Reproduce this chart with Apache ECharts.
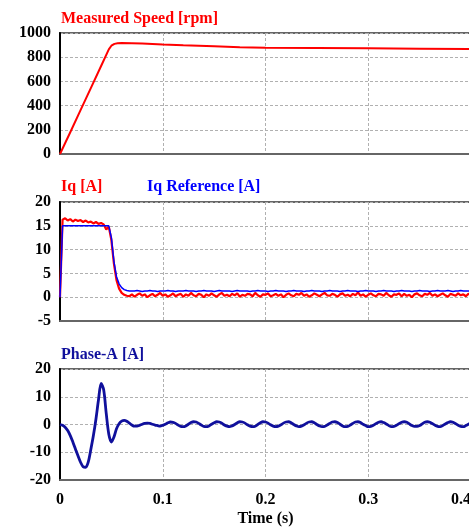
<!DOCTYPE html>
<html>
<head>
<meta charset="utf-8">
<script src="https://cdn.jsdelivr.net/npm/echarts@6/dist/echarts.min.js"></script>
<style>
  html, body { margin: 0; padding: 0; background: #ffffff; }
  #chart { width: 469px; height: 529px; }
</style>
</head>
<body>
<div id="chart"></div>
<script>
// ---- Panel titles and axis ticks ----
const TITLE_SPEED = 'Measured Speed [rpm]';
const TITLE_IQ = 'Iq [A]';
const TITLE_IQ_REF = 'Iq Reference [A]';
const TITLE_PHASE = 'Phase-A [A]';
const X_NAME = 'Time (s)';
const X_TICKS = [0, 0.1, 0.2, 0.3, 0.4];
const SPEED_TICKS = [0, 200, 400, 600, 800, 1000];
const IQ_TICKS = [-5, 0, 5, 10, 15, 20];
const PHASE_TICKS = [-20, -10, 0, 10, 20];

// ---- Measured speed [rpm] vs time [s] ----
const SPEED_T = [0, 0.01, 0.02, 0.03, 0.04, 0.0475, 0.05, 0.053, 0.056, 0.06, 0.07, 0.08, 0.1, 0.12, 0.15, 0.175, 0.2, 0.25, 0.3, 0.35, 0.4];
const SPEED_V = [0, 180, 362, 545, 727, 865, 895, 910, 915, 917, 916, 913, 905, 898, 890, 882, 878, 876, 873, 870, 868];

// ---- Iq traces, sampled every 2.5 ms from t = 0 ----
const IQ_STEP = 0.0025;
const IQ_MEAS = [
  0,
  16.3, 16.6, 16.1, 16.4, 15.9, 16.3, 16.0, 16.2, 15.8, 16.1,
  15.7, 15.9, 15.5, 15.8, 15.4, 15.6, 15.3, 14.2, 14.8,
  12.0, 7.0, 3.6, 1.8, 0.9, 0.5, 0.3,
  0.2, 0.6, 0.1, 0.5, 0.8, 0.3, 0.6, 0.0, 0.4, 0.7,
  0.2, 0.5, 0.9, 0.3, 0.6, 0.1, 0.4, 0.8, 0.2, 0.5,
  0.7, 0.1, 0.6, 0.3, 0.9, 0.4, 0.2, 0.7, 0.5, 0.0,
  0.6, 0.3, 0.8, 0.4, 0.1, 0.6, 0.9, 0.3, 0.5, 0.2,
  0.7, 0.4, 0.8, 0.1, 0.5, 0.3, 0.7, 0.6, 0.2, 0.9,
  0.4, 0.1, 0.6, 0.5, 0.8, 0.2, 0.4, 0.7, 0.3, 0.6,
  0.0, 0.5, 0.8, 0.4, 0.2, 0.7, 0.5, 0.9, 0.3, 0.6,
  0.1, 0.4, 0.8, 0.5, 0.2, 0.6, 0.9, 0.4, 0.3, 0.7,
  0.5, 0.1, 0.6, 0.8, 0.3, 0.5, 0.2, 0.7, 0.4, 1.0,
  0.3, 0.6, 0.1, 0.5, 0.8, 0.4, 0.2, 0.7, 0.6, 0.3,
  0.9, 0.4, 0.1, 0.6, 0.5, 0.8, 0.2, 0.7, 0.3, 0.5,
  0.0, 0.6, 0.8, 0.4, 0.2, 0.7, 0.5, 0.9, 0.3, 0.6,
  0.2, 0.5, 0.8, 0.4, 0.1, 0.7, 0.5, 0.3, 0.8, 0.4,
  0.6, 0.2, 0.7, 0.5
];
const IQ_REF = [
  0,
  15.0, 15.0, 15.0, 15.0, 15.0, 15.0, 15.0, 15.0, 15.0, 15.0,
  15.0, 15.0, 15.0, 15.0, 15.0, 15.0, 15.0, 15.0, 15.0,
  12.5, 7.5, 4.3, 2.8, 2.0, 1.6, 1.4, 1.3,
  1.3, 1.3, 1.4, 1.3, 1.2, 1.3, 1.3, 1.4, 1.3, 1.3,
  1.2, 1.3, 1.3, 1.3, 1.4, 1.3, 1.3, 1.2, 1.3, 1.3,
  1.3, 1.4, 1.3, 1.3, 1.3, 1.2, 1.3, 1.3, 1.4, 1.3,
  1.3, 1.3, 1.2, 1.3, 1.4, 1.3, 1.3, 1.3, 1.3, 1.2,
  1.3, 1.4, 1.3, 1.3, 1.3, 1.3, 1.2, 1.3, 1.3, 1.4,
  1.3, 1.3, 1.3, 1.2, 1.3, 1.3, 1.4, 1.3, 1.3, 1.3,
  1.2, 1.3, 1.3, 1.4, 1.3, 1.3, 1.3, 1.2, 1.3, 1.3,
  1.4, 1.3, 1.3, 1.3, 1.2, 1.3, 1.3, 1.4, 1.3, 1.3,
  1.3, 1.2, 1.3, 1.3, 1.4, 1.3, 1.3, 1.3, 1.2, 1.3,
  1.3, 1.4, 1.3, 1.3, 1.3, 1.2, 1.3, 1.3, 1.4, 1.3,
  1.3, 1.3, 1.2, 1.3, 1.3, 1.4, 1.3, 1.3, 1.3, 1.2,
  1.3, 1.3, 1.4, 1.3, 1.3, 1.3, 1.2, 1.3, 1.3, 1.4,
  1.3, 1.3, 1.3, 1.4, 1.3, 1.2, 1.3, 1.3, 1.4, 1.3,
  1.3, 1.3, 1.3
];

// ---- Phase-A current [A], sampled every 2.5 ms from t = 0 ----
const PHASE_STEP = 0.0025;
const PHASE_A = [
  0, -0.3, -1.0, -2.2, -4.0, -6.3, -8.8, -11.3, -13.6, -15.2,
  -15.4, -13.5, -9.0, -4.0, 2.0, 9.0, 14.8, 12.5, 4.0, -3.5,
  -6.3, -4.5, -1.5, 0.3, 1.2, 1.5, 1.2, 0.5, -0.2, -0.6,
  -0.6, -0.3, 0.1, 0.4, 0.5, 0.4, 0.1, -0.2, -0.4, -0.6,
  -0.3, 0.1, 0.6, 0.9, 0.8, 0.4, -0.2, -0.7, -0.8, -0.5,
  0.1, 0.7, 1.0, 0.9, 0.4, -0.2, -0.7, -0.8, -0.5, 0.1,
  0.6, 1.0, 0.9, 0.5, -0.2, -0.6, -0.8, -0.5, 0.0, 0.6,
  1.0, 0.9, 0.5, -0.1, -0.6, -0.8, -0.6, 0.0, 0.6, 1.0,
  0.9, 0.5, -0.1, -0.6, -0.8, -0.6, -0.1, 0.5, 0.9, 1.0,
  0.6, 0.0, -0.5, -0.8, -0.6, -0.1, 0.5, 0.9, 1.0, 0.6,
  0.0, -0.5, -0.8, -0.7, -0.2, 0.4, 0.9, 1.0, 0.7, 0.1,
  -0.5, -0.8, -0.7, -0.2, 0.4, 0.9, 1.0, 0.7, 0.1, -0.4,
  -0.8, -0.7, -0.3, 0.3, 0.8, 1.0, 0.7, 0.2, -0.4, -0.8,
  -0.7, -0.3, 0.3, 0.8, 1.0, 0.8, 0.2, -0.4, -0.7, -0.7,
  -0.4, 0.2, 0.8, 1.0, 0.8, 0.3, -0.3, -0.7, -0.8, -0.4,
  0.2, 0.7, 1.0, 0.8, 0.3, -0.3, -0.7, -0.8, -0.4, 0.1,
  0.7
];

// ---- Colours and fonts ----
const RED = '#ff0000';
const BLUE = '#0000ff';
const NAVY = '#10109c';
const FONT = '"Liberation Serif", "Times New Roman", serif';

function sampled(values, step) {
  return values.map((v, i) => [+(i * step).toFixed(4), v]);
}
function paired(ts, vs) {
  return ts.map((t, i) => [t, vs[i]]);
}

const GRIDS = [
  { left: 60, right: -2, top: 33, height: 121 },
  { left: 60, right: -2, top: 202, height: 119 },
  { left: 60, right: -2, top: 369, height: 111 }
];

const gridStyle = {
  show: true, borderColor: '#666', borderWidth: 2, backgroundColor: 'transparent',
  containLabel: false, outerBoundsMode: 'none'
};
const splitDash = { show: true, lineStyle: { color: '#b0b0b0', type: [3, 2], width: 1 } };
const labelStyle = { color: '#000', fontFamily: FONT, fontWeight: 'bold', fontSize: 16 };

function xAxis(idx, showLabels) {
  return {
    type: 'value', gridIndex: idx,
    min: X_TICKS[0], max: X_TICKS[X_TICKS.length - 1], interval: X_TICKS[1] - X_TICKS[0],
    axisLine: { show: true, onZero: false, lineStyle: { color: '#666', width: 2 } },
    axisTick: { show: false },
    splitLine: splitDash,
    axisLabel: Object.assign({ show: showLabels, margin: 12, hideOverlap: false,
      alignMaxLabel: 'right',
      formatter: v => String(+v.toFixed(1)) }, labelStyle),
    name: showLabels ? X_NAME : '',
    nameLocation: 'middle', nameGap: 31,
    nameTextStyle: labelStyle
  };
}
function yAxis(idx, ticks) {
  return {
    type: 'value', gridIndex: idx,
    min: ticks[0], max: ticks[ticks.length - 1], interval: ticks[1] - ticks[0],
    axisLine: { show: true, onZero: false, lineStyle: { color: '#000', width: 2 } },
    axisTick: { show: false },
    splitLine: splitDash,
    axisLabel: Object.assign({ margin: 9, formatter: v => String(v) }, labelStyle)
  };
}
function titleText(text, left, top, color) {
  return { text, left, top, textStyle: { color, fontFamily: FONT, fontWeight: 'bold', fontSize: 16 } };
}

const chart = echarts.init(document.getElementById('chart'), null, { renderer: 'canvas' });
chart.setOption({
  animation: false,
  backgroundColor: '#ffffff',
  title: [
    titleText(TITLE_SPEED, 56, 6, RED),
    titleText(TITLE_IQ, 56, 174, RED),
    titleText(TITLE_IQ_REF, 142, 174, BLUE),
    titleText(TITLE_PHASE, 56, 342, NAVY)
  ],
  grid: GRIDS.map(g => Object.assign({}, g, gridStyle)),
  xAxis: [xAxis(0, false), xAxis(1, false), xAxis(2, true)],
  yAxis: [yAxis(0, SPEED_TICKS), yAxis(1, IQ_TICKS), yAxis(2, PHASE_TICKS)],
  series: [
    {
      type: 'line', xAxisIndex: 0, yAxisIndex: 0, symbol: 'none',
      data: paired(SPEED_T, SPEED_V),
      lineStyle: { color: RED, width: 2 }
    },
    {
      type: 'line', xAxisIndex: 1, yAxisIndex: 1, symbol: 'none',
      data: sampled(IQ_MEAS, IQ_STEP),
      lineStyle: { color: RED, width: 2.2 }
    },
    {
      type: 'line', xAxisIndex: 1, yAxisIndex: 1, symbol: 'none',
      data: sampled(IQ_REF, IQ_STEP),
      lineStyle: { color: BLUE, width: 1.5 }
    },
    {
      type: 'line', xAxisIndex: 2, yAxisIndex: 2, symbol: 'none',
      smooth: 0.3,
      data: sampled(PHASE_A, PHASE_STEP),
      lineStyle: { color: NAVY, width: 2.8 }
    }
  ]
});
</script>
</body>
</html>
